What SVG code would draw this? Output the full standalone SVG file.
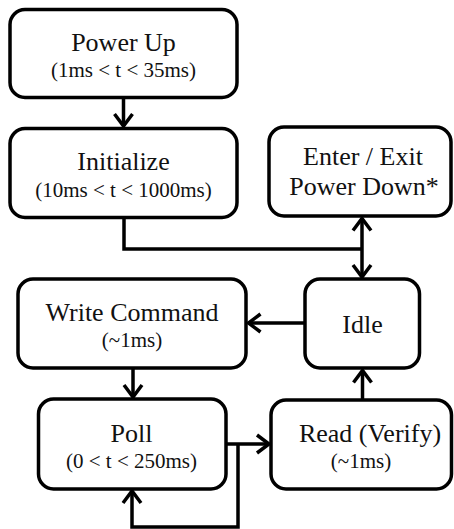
<svg xmlns="http://www.w3.org/2000/svg" width="454" height="529" viewBox="0 0 454 529">
<defs>
<style>
.box{fill:#fff;stroke:#000;stroke-width:3.5}
.t{font-family:'Liberation Serif','Times New Roman','DejaVu Serif',serif;font-size:26px;fill:#111;text-anchor:middle}
.s{font-family:'Liberation Serif','Times New Roman','DejaVu Serif',serif;font-size:21px;fill:#111;text-anchor:middle}
.c{fill:none;stroke:#000;stroke-width:3.5}
</style>
<marker id="ah" markerUnits="userSpaceOnUse" orient="auto" overflow="visible" markerWidth="1" markerHeight="1" refX="0" refY="0">
<path d="M -12 -9 L 0 0 L -12 9" fill="none" stroke="#000" stroke-width="3.5"/>
</marker>
</defs>
<rect width="454" height="529" fill="#fff"/>
<g id="connectors">
<path class="c" d="M 123.5 97.5 L 123.5 126" marker-end="url(#ah)"/>
<path class="c" d="M 124 218 L 124 249 L 362 249"/>
<path class="c" d="M 362 249 L 362 218.5" marker-end="url(#ah)"/>
<path class="c" d="M 362 249 L 362 277" marker-end="url(#ah)"/>
<path class="c" d="M 305 323 L 248.5 323" marker-end="url(#ah)"/>
<path class="c" d="M 133 368 L 133 397" marker-end="url(#ah)"/>
<path class="c" d="M 362.5 400 L 362.5 370.5" marker-end="url(#ah)"/>
<path class="c" d="M 226 444 L 269 444" marker-end="url(#ah)"/>
<path class="c" d="M 238 444 L 238 527 L 132 527 L 132 491" marker-end="url(#ah)"/>
</g>
<g id="power-up">
<rect class="box" x="10" y="9.5" width="227" height="88" rx="15"/>
<text class="t" x="123.5" y="51">Power Up</text>
<text class="s" x="123.5" y="77">(1ms &lt; t &lt; 35ms)</text>
</g>
<g id="initialize">
<rect class="box" x="10" y="128.5" width="227" height="89" rx="15"/>
<text class="t" x="123.5" y="170">Initialize</text>
<text class="s" x="123.5" y="197">(10ms &lt; t &lt; 1000ms)</text>
</g>
<g id="power-down">
<rect class="box" x="269" y="127" width="182" height="89" rx="15"/>
<text class="t" x="363" y="165">Enter / Exit</text>
<text class="t" x="364" y="195">Power Down*</text>
</g>
<g id="write-command">
<rect class="box" x="18" y="279" width="228" height="89" rx="15"/>
<text class="t" x="132" y="321">Write Command</text>
<text class="s" x="132" y="347">(~1ms)</text>
</g>
<g id="idle">
<rect class="box" x="305" y="279" width="114.5" height="89" rx="15"/>
<text class="t" x="362.5" y="333">Idle</text>
</g>
<g id="poll">
<rect class="box" x="38.5" y="399" width="187.5" height="90" rx="15"/>
<text class="t" x="131.5" y="442">Poll</text>
<text class="s" x="131.5" y="468">(0 &lt; t &lt; 250ms)</text>
</g>
<g id="read">
<rect class="box" x="271" y="400" width="180.5" height="89" rx="15"/>
<text class="t" x="370" y="442">Read (Verify)</text>
<text class="s" x="361" y="468">(~1ms)</text>
</g>
</svg>
